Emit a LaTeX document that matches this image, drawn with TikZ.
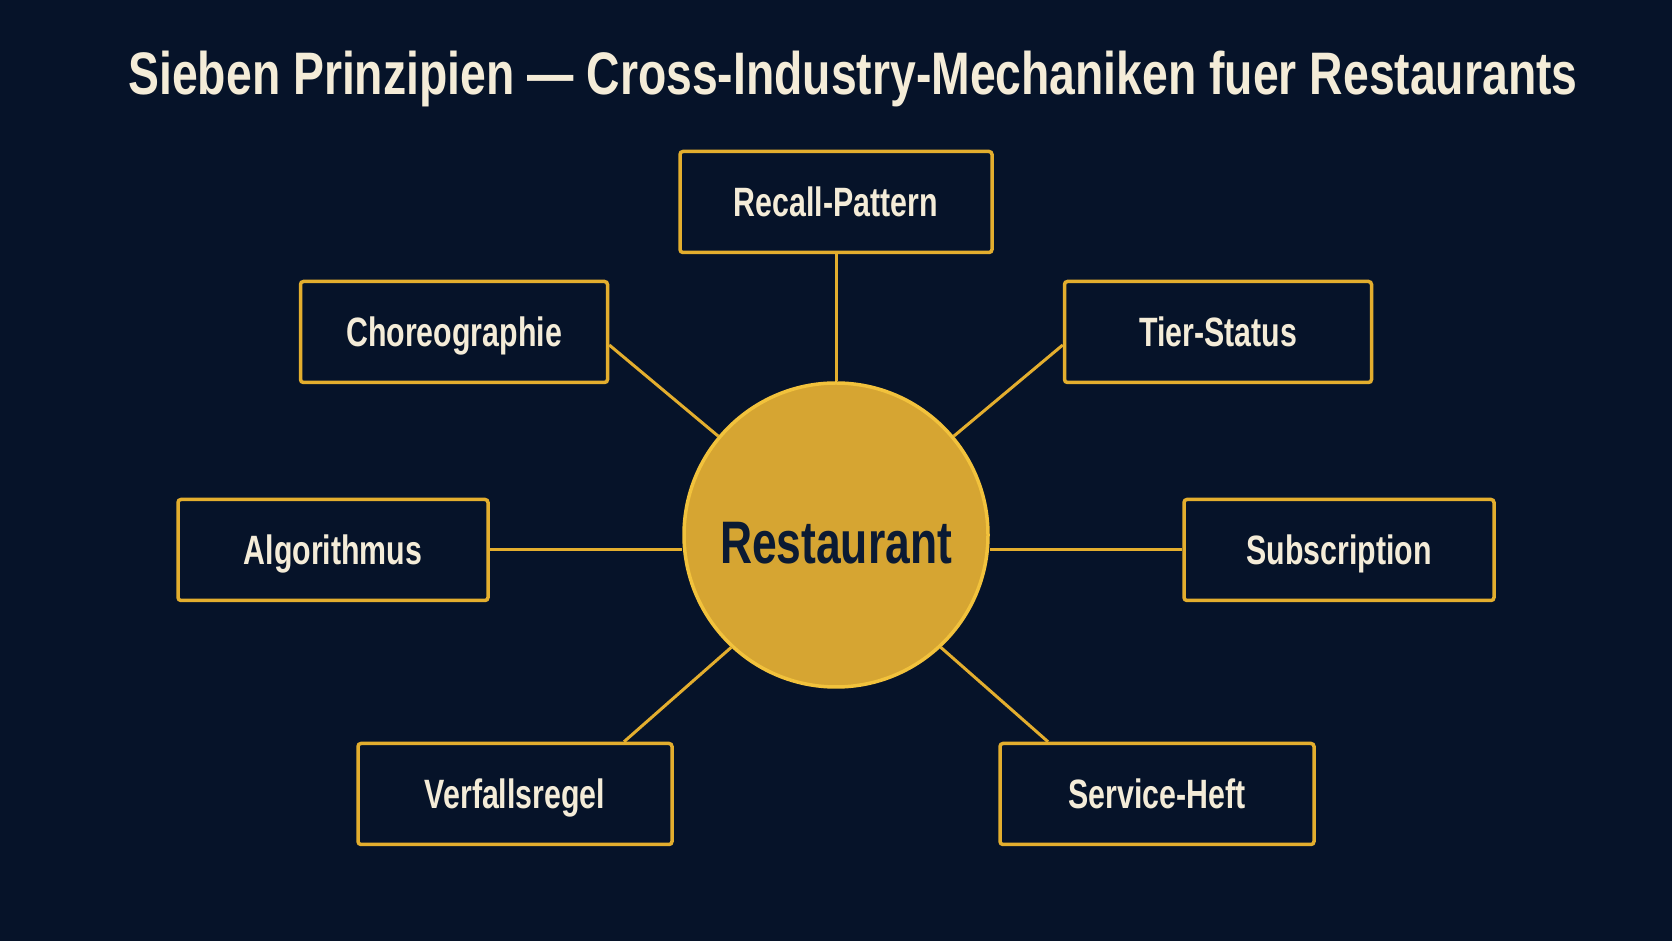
\documentclass[tikz,border=0pt]{standalone}
\usepackage{fontspec}
\newfontfamily\cond{Liberation Sans}[FakeStretch=0.74]
\newfontfamily\condtitle{Liberation Sans}[FakeStretch=0.772]
\definecolor{bgnavy}{HTML}{061329}
\definecolor{gold}{HTML}{E3AE2E}
\definecolor{circfill}{HTML}{D6A532}
\definecolor{circline}{HTML}{F2C23C}
\definecolor{cream}{HTML}{F4ECD8}
\definecolor{darktext}{HTML}{0B1A33}
\begin{document}
\begin{tikzpicture}[x=1pt,y=1pt,
  box/.style={draw=gold, line width=3.5pt, rounded corners=3pt, fill=bgnavy,
    minimum width=310pt, minimum height=101pt, inner sep=0pt,
    text height=29pt, text depth=0pt,
    text=cream, font=\cond\bfseries\fontsize{41}{44}\selectfont},
  hub/.style={circle, draw=circline, line width=3.5pt, fill=circfill,
    minimum size=304pt, inner sep=0pt, text=darktext,
    text height=43pt, text depth=0pt,
    font=\cond\bfseries\fontsize{60}{64}\selectfont},
  link/.style={draw=gold, line width=3pt}]
\fill[bgnavy] (0,0) rectangle (1672,941);
\useasboundingbox (0,0) rectangle (1672,941);
\node[anchor=base, text=cream, font=\condtitle\bfseries\fontsize{60}{64}\selectfont] (title) at (853,846) {Sieben Prinzipien — Cross-Industry-Mechaniken fuer Restaurants};
\node[hub] (c) at (836,406) {\raisebox{-7pt}{Restaurant}};
\node[box, minimum width=312pt] (recall) at (836,739) {Recall-Pattern};
\node[box, minimum width=307pt] (chor) at (454,609) {Choreographie};
\node[box, minimum width=307pt] (tier) at (1218,609) {Tier-Status};
\node[box] (alg) at (333,391) {Algorithmus};
\node[box] (subs) at (1339,391) {Subscription};
\node[box, minimum width=314pt] (verf) at (515,147) {Verfallsregel};
\node[box, minimum width=314pt] (serv) at (1157,147) {Service-Heft};
\draw[link] (recall.south) -- (c.90);
\draw[link] ([yshift=-13pt]chor.east) -- (c.140);
\draw[link] ([yshift=-13pt]tier.west) -- (c.40);
\draw[link] (alg.east) -- (c.west |- alg.east);
\draw[link] (subs.west) -- (c.east |- subs.west);
\draw[link] ([xshift=109pt]verf.north) -- (c.227);
\draw[link] ([xshift=-109pt]serv.north) -- (c.313);
\end{tikzpicture}
\end{document}
